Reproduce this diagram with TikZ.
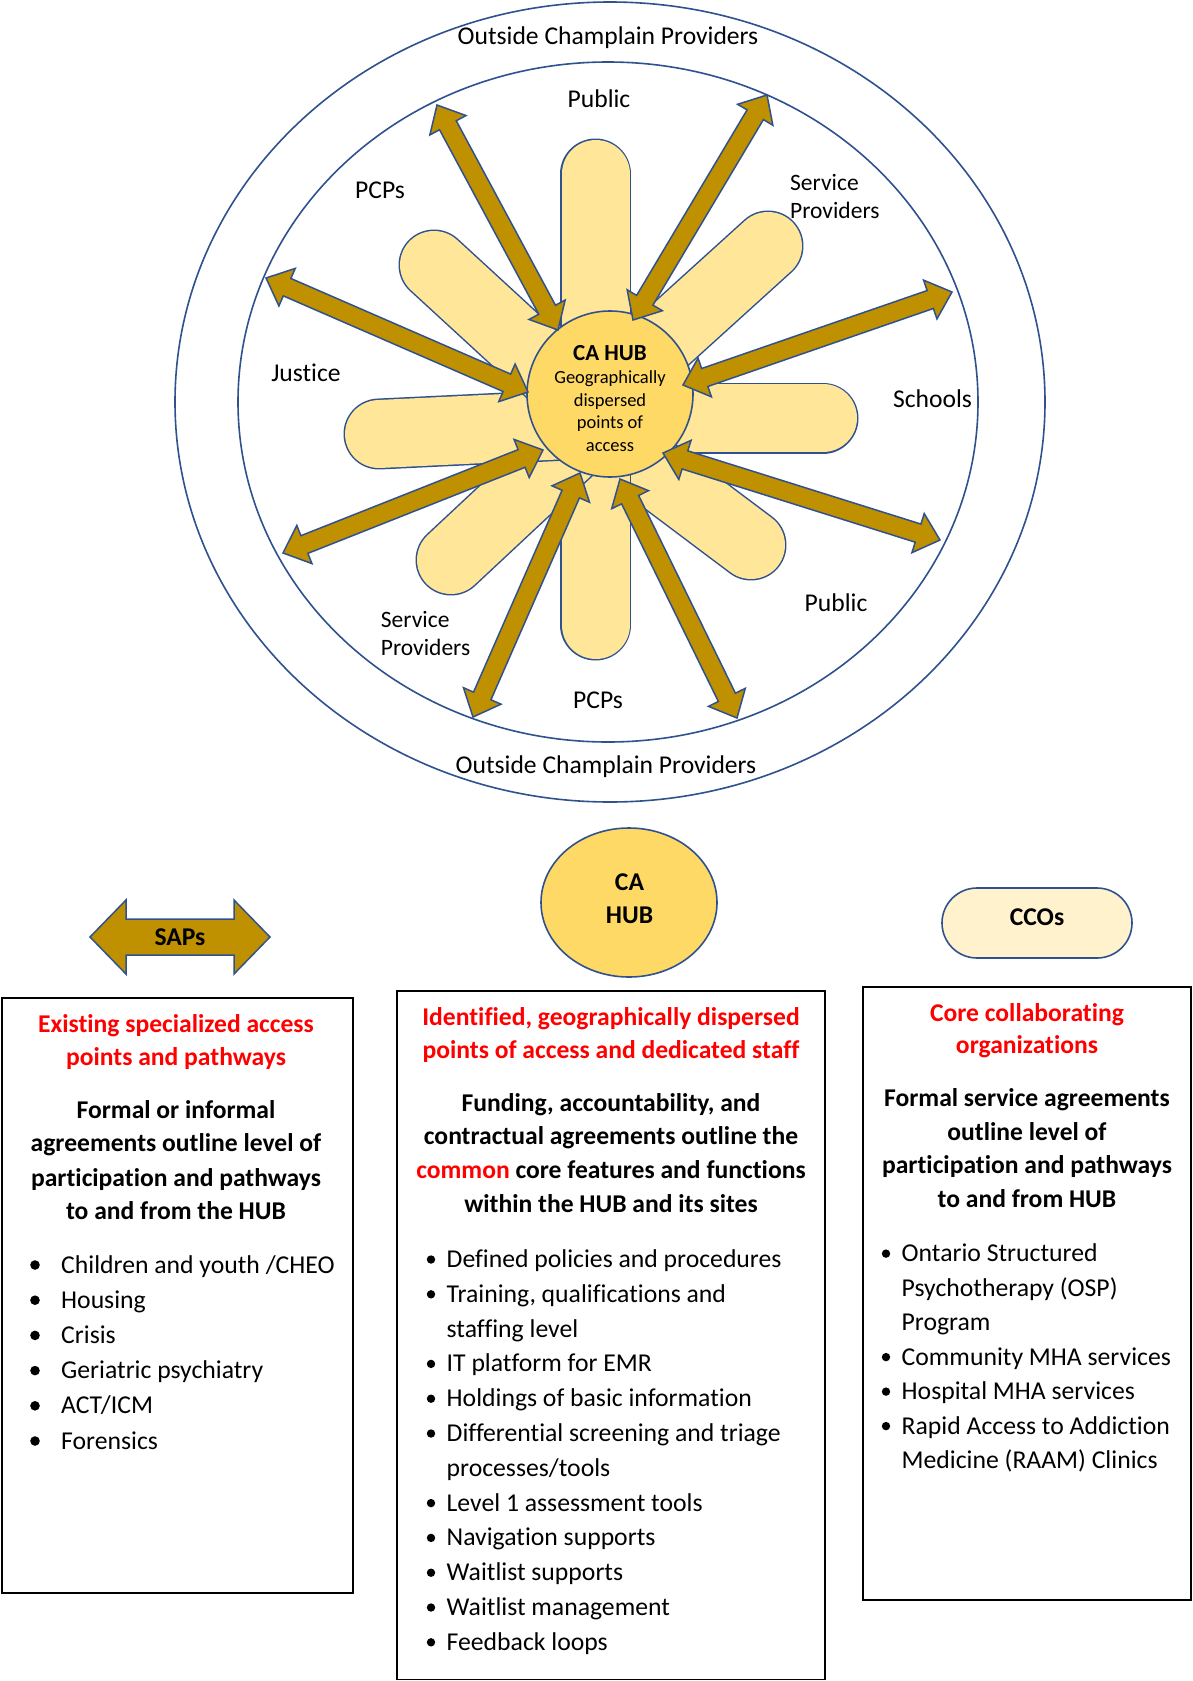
\documentclass[tikz,border=0pt]{standalone}
\usepackage{fontspec}
\setmainfont{Carlito}[Ligatures={NoCommon,NoContextual}]
\usetikzlibrary{calc,shapes.geometric}
\definecolor{bl}{HTML}{2F528F}
\definecolor{gold}{HTML}{BF9000}
\definecolor{petalc}{HTML}{FFE699}
\definecolor{hubc}{HTML}{FFD966}
\definecolor{ccoc}{HTML}{FFF2CC}
\definecolor{redt}{HTML}{FF0000}
\newcounter{tl}
\newcommand{\tline}[4]{\stepcounter{tl}\node[#1] (tl\arabic{tl}) at (#2,#3) {#4};}
\newcommand{\dblarrow}[5]{%
  \coordinate (ha) at ($(#1)!#3!(#2)$);
  \coordinate (hb) at ($(#2)!#3!(#1)$);
  \draw[barrow] (#1)
   -- ($(ha)!#4!90:(#2)$) -- ($(ha)!#5!90:(#2)$)
   -- ($(hb)!#5!270:(#1)$) -- ($(hb)!#4!270:(#1)$)
   -- (#2)
   -- ($(hb)!#4!90:(#1)$) -- ($(hb)!#5!90:(#1)$)
   -- ($(ha)!#5!270:(#2)$) -- ($(ha)!#4!270:(#2)$)
   -- cycle;}
\newcommand{\bul}[2]{\fill (#1,#2-8) circle [radius=4.2pt];}
\newcommand{\bulb}[2]{\fill (#1,#2-8) circle [radius=4.8pt];}
\begin{document}
\begin{tikzpicture}[x=1pt,y=-1pt,
  lbl/.style={font=\fontsize{25.6}{30}\selectfont, inner sep=0, anchor=base},
  lbls/.style={font=\fontsize{23.5}{28}\selectfont, inner sep=0, anchor=base west},
  hubb/.style={font=\fontsize{23}{27}\selectfont\bfseries, inner sep=0, anchor=base},
  hubt/.style={font=\fontsize{18.5}{22}\selectfont, inner sep=0, anchor=base},
  big/.style={font=\fontsize{25.6}{30}\selectfont\bfseries, inner sep=0, anchor=base},
  ttl/.style={font=\fontsize{25.6}{30}\selectfont\bfseries, text=redt, inner sep=0, anchor=base},
  bld/.style={font=\fontsize{25.6}{30}\selectfont\bfseries, inner sep=0, anchor=base},
  itm/.style={font=\fontsize{25.7}{30}\selectfont, inner sep=0, anchor=base west},
  ring/.style={ellipse, draw=bl, line width=1.6, inner sep=0},
  petalout/.style={line width=71, draw=bl, line cap=round},
  petalin/.style={line width=68, draw=petalc, line cap=round},
  barrow/.style={draw=bl, fill=gold, line width=1.5, line join=miter},
  box/.style={draw=black, line width=1.6},
]
\useasboundingbox (0,0) rectangle (1193,1681);
\fill[white] (0,0) rectangle (1193,1681);

% rings
\node[ring, minimum width=870, minimum height=800] (outer) at (610,402) {};
\node[ring, minimum width=740, minimum height=680] (inner) at (608,402) {};

% petals
\coordinate (p1c) at (595.5,174); \coordinate (p1i) at (595.5,394);
\coordinate (p2c) at (768,246);     \coordinate (p2i) at (608,391);
\coordinate (p3c) at (823,418);     \coordinate (p3i) at (610,418);
\coordinate (p4c) at (751,545);     \coordinate (p4i) at (586,421);
\coordinate (p5c) at (595.5,625);   \coordinate (p5i) at (595.5,394);
\coordinate (p6c) at (451,560);     \coordinate (p6i) at (618,404);
\coordinate (p7c) at (379,434);     \coordinate (p7i) at (610,423);
\coordinate (p8c) at (434,265);     \coordinate (p8i) at (595,413);
\foreach \k in {1,...,8}{
  \draw[petalout] (p\k c) -- (p\k i);
  \draw[petalin] (p\k c) -- (p\k i);
}

% hub
\node[circle, draw=bl, fill=hubc, line width=1.6, minimum size=166, inner sep=0] (hub) at (610,394) {};

% arrows
\coordinate (a1o) at (437,105); \coordinate (a1i) at (558,330);
\coordinate (a2o) at (767,95);  \coordinate (a2i) at (633,320);
\coordinate (a3o) at (952,292); \coordinate (a3i) at (683,385);
\coordinate (a4o) at (940,540); \coordinate (a4i) at (663,453);
\coordinate (a5o) at (737,718); \coordinate (a5i) at (620,479);
\coordinate (a6o) at (473,717); \coordinate (a6i) at (580,473);
\coordinate (a7o) at (283,553); \coordinate (a7i) at (543,450);
\coordinate (a8o) at (266,278); \coordinate (a8i) at (528,392);
\foreach \k in {1,...,8}{
  \dblarrow{a\k o}{a\k i}{23pt}{20.5pt}{9.5pt}
}

% hub text
\tline{hubb}{610}{360}{CA HUB}
\tline{hubt}{610}{383}{Geographically}
\tline{hubt}{610}{406}{dispersed}
\tline{hubt}{610}{428}{points of}
\tline{hubt}{610}{451}{access}

% ring labels
\tline{lbl}{608}{44}{Outside Champlain Providers}
\tline{lbl}{599}{107}{Public}
\tline{lbl}{380}{198}{PCPs}
\tline{lbls}{790}{190}{Service}
\tline{lbls}{790}{218}{Providers}
\tline{lbl}{306}{381}{Justice}
\tline{lbl}{932.5}{407}{Schools}
\tline{lbl}{836}{611}{Public}
\tline{lbls}{380.7}{627}{Service}
\tline{lbls}{380.7}{655}{Providers}
\tline{lbl}{598}{708}{PCPs}
\tline{lbl}{606}{773}{Outside Champlain Providers}

% bottom icons
\coordinate (sapl) at (90,937); \coordinate (sapr) at (270,937);
\dblarrow{sapl}{sapr}{36pt}{37pt}{18pt}
\tline{big}{180}{945.5}{SAPs}
\node[ellipse, draw=bl, fill=hubc, line width=1.6, minimum width=176, minimum height=149, inner sep=0] (hub2) at (629,902.5) {};
\tline{big}{629.5}{890}{CA}
\tline{big}{629.5}{923}{HUB}
\node[draw=bl, fill=ccoc, line width=1.6, rounded corners=35, minimum width=190, minimum height=70, inner sep=0] (cco) at (1037,923) {};
\tline{big}{1037}{925.5}{CCOs}

% boxes
\draw[box] (2,998) rectangle (353,1593);
\draw[box] (397,991) rectangle (825,1679.5);
\draw[box] (863,987) rectangle (1191,1600);

% left box
\tline{ttl}{176}{1032}{Existing specialized access}
\tline{ttl}{176}{1065}{points and pathways}
\tline{bld}{176}{1118}{Formal or informal}
\tline{bld}{176}{1151}{agreements outline level of}
\tline{bld}{176}{1186}{participation and pathways}
\tline{bld}{176}{1219}{to and from the HUB}
\bulb{35}{1273}      \tline{itm}{61}{1273}{Children and youth /CHEO}
\bulb{35}{1308.2}    \tline{itm}{61}{1308.2}{Housing}
\bulb{35}{1343.4}    \tline{itm}{61}{1343.4}{Crisis}
\bulb{35}{1378.6}    \tline{itm}{61}{1378.6}{Geriatric psychiatry}
\bulb{35}{1413.8}    \tline{itm}{61}{1413.8}{ACT/ICM}
\bulb{35}{1449}      \tline{itm}{61}{1449}{Forensics}

% middle box
\tline{ttl}{611}{1025}{Identified, geographically dispersed}
\tline{ttl}{611}{1058}{points of access and dedicated staff}
\tline{bld}{611}{1111}{Funding, accountability, and}
\tline{bld}{611}{1144}{contractual agreements outline the}
\tline{bld}{611}{1178}{{\color{redt}common} core features and functions}
\tline{bld}{611}{1212}{within the HUB and its sites}
\bul{431}{1267.5}   \tline{itm}{446.5}{1267.5}{Defined policies and procedures}
\bul{431}{1302.3}   \tline{itm}{446.5}{1302.3}{Training, qualifications and}
                    \tline{itm}{446.5}{1337.1}{staffing level}
\bul{431}{1371.9}   \tline{itm}{446.5}{1371.9}{IT platform for EMR}
\bul{431}{1406.7}   \tline{itm}{446.5}{1406.7}{Holdings of basic information}
\bul{431}{1441.5}   \tline{itm}{446.5}{1441.5}{Differential screening and triage}
                    \tline{itm}{446.5}{1476.3}{processes/tools}
\bul{431}{1511.1}   \tline{itm}{446.5}{1511.1}{Level 1 assessment tools}
\bul{431}{1545.9}   \tline{itm}{446.5}{1545.9}{Navigation supports}
\bul{431}{1580.7}   \tline{itm}{446.5}{1580.7}{Waitlist supports}
\bul{431}{1615.5}   \tline{itm}{446.5}{1615.5}{Waitlist management}
\bul{431}{1650.3}   \tline{itm}{446.5}{1650.3}{Feedback loops}

% right box
\tline{ttl}{1027}{1021}{Core collaborating}
\tline{ttl}{1027}{1053.5}{organizations}
\tline{bld}{1027}{1106.5}{Formal service agreements}
\tline{bld}{1027}{1140}{outline level of}
\tline{bld}{1027}{1173}{participation and pathways}
\tline{bld}{1027}{1207}{to and from HUB}
\bul{886}{1261.6}   \tline{itm}{901.5}{1261.6}{Ontario Structured}
                    \tline{itm}{901.5}{1296.1}{Psychotherapy (OSP)}
                    \tline{itm}{901.5}{1330.6}{Program}
\bul{886}{1365.1}   \tline{itm}{901.5}{1365.1}{Community MHA services}
\bul{886}{1399.6}   \tline{itm}{901.5}{1399.6}{Hospital MHA services}
\bul{886}{1434.1}   \tline{itm}{901.5}{1434.1}{Rapid Access to Addiction}
                    \tline{itm}{901.5}{1468.6}{Medicine (RAAM) Clinics}
\end{tikzpicture}
\end{document}
